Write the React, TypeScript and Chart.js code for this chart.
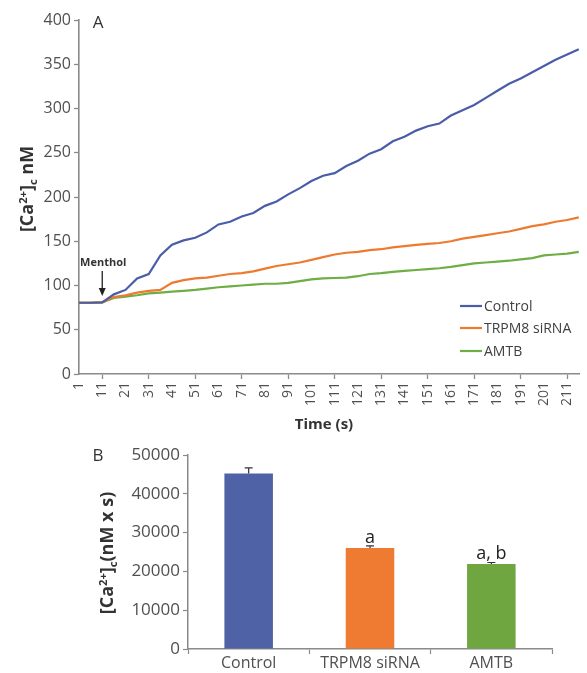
import React, { useEffect, useRef } from 'react';
import { Chart, registerables } from 'chart.js';

Chart.register(...registerables);

// ---------- Panel A data ----------
const times = [1, 6, 11, 16, 21, 26, 31, 36, 41, 46, 51, 56, 61, 66, 71, 76, 81, 86, 91, 96, 101, 106, 111, 116, 121, 126, 131, 136, 141, 146, 151, 156, 161, 166, 171, 176, 181, 186, 191, 196, 201, 206, 211, 216];
const controlValues = [80.5, 80.5, 81, 90, 95, 108, 113, 134, 146, 151, 154, 160, 169, 172, 178, 182, 190, 195, 203, 210, 218, 224, 227, 235, 241, 249, 254, 263, 268, 275, 280, 283, 292, 298, 304, 312, 320, 328, 334, 341, 348, 355, 361, 367];
const trpm8Values = [80.5, 80.5, 81, 87, 89, 92, 94, 95, 103, 106, 108, 109, 111, 113, 114, 116, 119, 122, 124, 126, 129, 132, 135, 137, 138, 140, 141, 143, 144.5, 146, 147, 148, 150, 153, 155, 157, 159, 161, 164, 167, 169, 172, 174, 177];
const amtbValues = [80.5, 80.5, 81, 86, 87.5, 89, 91, 92, 93, 94, 95, 96.5, 98, 99, 100, 101, 102, 102, 103, 105, 107, 108, 108.5, 109, 110.5, 113, 114, 115.5, 116.5, 117.5, 118.5, 119.5, 121, 123, 125, 126, 127, 128, 129.5, 131, 134, 135, 136, 138];
const seriesNames = ['Control', 'TRPM8 siRNA', 'AMTB'];
const xTickValues = [1, 11, 21, 31, 41, 51, 61, 71, 81, 91, 101, 111, 121, 131, 141, 151, 161, 171, 181, 191, 201, 211];
const yMinA = 0;
const yMaxA = 400;
const yStepA = 50;
const xMaxA = 216.3;
const mentholTime = 11;
const mentholLabel = 'Menthol';

// ---------- Panel B data ----------
const barCategories = ['Control', 'TRPM8 siRNA', 'AMTB'];
const barValues = [45200, 26000, 21900];
const barErrors = [1500, 600, 400];
const barAnnotations = ['', 'a', 'a, b'];
const yMaxB = 50000;
const yStepB = 10000;

// ---------- styling ----------
const lineColors = ['#4a5da8', '#ee7a30', '#6fad45'];
const barColors = ['#5062a6', '#ee7b31', '#6fa63f'];
const textColor = '#505050';
const axisColor = '#8a8a8a';
const FONT = '"Open Sans", "DejaVu Sans", sans-serif';

type Seg = { text: string; kind?: 'sup' | 'sub' };

function drawRichRotated(ctx: CanvasRenderingContext2D, segs: Seg[], cx: number, cy: number, size: number, color: string) {
  ctx.save();
  ctx.translate(cx, cy);
  ctx.rotate(-Math.PI / 2);
  ctx.fillStyle = color;
  ctx.textBaseline = 'alphabetic';
  ctx.textAlign = 'left';
  let total = 0;
  const parts = segs.map((s) => {
    const sz = s.kind ? size * 0.62 : size;
    ctx.font = `bold ${sz}px ${FONT}`;
    const w = ctx.measureText(s.text).width;
    total += w;
    return { ...s, sz, w };
  });
  let x = -total / 2;
  for (const p of parts) {
    ctx.font = `bold ${p.sz}px ${FONT}`;
    const dy = p.kind === 'sup' ? -size * 0.36 : p.kind === 'sub' ? size * 0.18 : 0;
    ctx.fillText(p.text, x, size * 0.36 + dy);
    x += p.w;
  }
  ctx.restore();
}

const titleA: Seg[] = [{ text: '[Ca' }, { text: '2+', kind: 'sup' }, { text: ']' }, { text: 'c', kind: 'sub' }, { text: ' nM' }];
const titleB: Seg[] = [{ text: '[Ca' }, { text: '2+', kind: 'sup' }, { text: ']' }, { text: 'c', kind: 'sub' }, { text: '(nM x s)' }];

export default function App() {
  const refA = useRef<HTMLCanvasElement>(null);
  const refB = useRef<HTMLCanvasElement>(null);

  useEffect(() => {
    const seriesValues = [controlValues, trpm8Values, amtbValues];
    const decorA = {
      id: 'decorA',
      afterDraw(chart: any) {
        const ctx: CanvasRenderingContext2D = chart.ctx;
        const xs = chart.scales.x;
        ctx.save();
        ctx.fillStyle = '#333';
        ctx.font = `17px ${FONT}`;
        ctx.textAlign = 'center';
        ctx.textBaseline = 'middle';
        ctx.fillText('A', 98, 23);
        drawRichRotated(ctx, titleA, 27, 189, 18, '#333');
        ctx.fillStyle = '#333';
        ctx.font = `bold 15px ${FONT}`;
        ctx.textAlign = 'center';
        ctx.textBaseline = 'middle';
        ctx.fillText('Time (s)', 324, 425);
        const ax = xs.getPixelForValue(mentholTime);
        ctx.font = `bold 11px ${FONT}`;
        ctx.fillStyle = '#333';
        ctx.fillText(mentholLabel, ax + 1, 263);
        ctx.strokeStyle = '#222';
        ctx.lineWidth = 1.3;
        ctx.beginPath();
        ctx.moveTo(ax, 271);
        ctx.lineTo(ax, 289);
        ctx.stroke();
        ctx.fillStyle = '#222';
        ctx.beginPath();
        ctx.moveTo(ax - 3.5, 288);
        ctx.lineTo(ax + 3.5, 288);
        ctx.lineTo(ax, 296);
        ctx.closePath();
        ctx.fill();
        const rows = [306, 328, 351];
        chart.data.datasets.forEach((ds: any, i: number) => {
          ctx.strokeStyle = ds.borderColor;
          ctx.lineWidth = 2.2;
          ctx.beginPath();
          ctx.moveTo(460, rows[i]);
          ctx.lineTo(482, rows[i]);
          ctx.stroke();
          ctx.fillStyle = '#404040';
          ctx.font = `14px ${FONT}`;
          ctx.textAlign = 'left';
          ctx.textBaseline = 'middle';
          ctx.fillText(ds.label, 484, rows[i] + 1);
        });
        ctx.restore();
      },
    };

    const chartA = new Chart(refA.current!, {
      type: 'line',
      data: {
        datasets: seriesNames.map((name, i) => ({
          label: name,
          data: times.map((t, j) => ({ x: t, y: seriesValues[i][j] })),
          borderColor: lineColors[i],
          backgroundColor: lineColors[i],
          borderWidth: 2.2,
          pointRadius: 0,
          tension: 0,
          fill: false,
        })),
      },
      options: {
        animation: false,
        responsive: false,
        layout: { padding: { top: 20, right: 2, left: 0, bottom: 0 } },
        plugins: { legend: { display: false }, tooltip: { enabled: false } },
        scales: {
          x: {
            type: 'linear',
            min: 1,
            max: xMaxA,
            afterBuildTicks: (s: any) => {
              s.ticks = xTickValues.map((v) => ({ value: v }));
            },
            afterFit: (s: any) => {
              s.height = 66;
            },
            ticks: {
              autoSkip: false,
              minRotation: 90,
              maxRotation: 90,
              padding: 3,
              color: textColor,
              font: { family: FONT, size: 14 },
              callback: (v: any) => String(v),
            },
            grid: {
              drawOnChartArea: false,
              drawTicks: true,
              tickLength: 5,
              tickWidth: 1.3,
              tickColor: (c: any) => (c.tick && (c.tick.value - 11) % 20 === 0 ? axisColor : 'rgba(0,0,0,0)'),
            },
            border: { color: axisColor, width: 1.6 },
          },
          y: {
            min: yMinA,
            max: yMaxA,
            afterFit: (s: any) => {
              s.width = 79;
            },
            ticks: {
              stepSize: yStepA,
              padding: 3,
              color: textColor,
              font: { family: FONT, size: 16 },
              callback: (v: any) => String(v),
            },
            grid: { drawOnChartArea: false, tickLength: 5, tickColor: axisColor, tickWidth: 1.3 },
            border: { color: axisColor, width: 1.6 },
          },
        },
      },
      plugins: [decorA],
    } as any);

    const decorB = {
      id: 'decorB',
      afterDatasetsDraw(chart: any) {
        const ctx: CanvasRenderingContext2D = chart.ctx;
        const ys = chart.scales.y;
        const meta = chart.getDatasetMeta(0);
        ctx.save();
        meta.data.forEach((el: any, i: number) => {
          const top = ys.getPixelForValue(barValues[i] + barErrors[i]);
          ctx.strokeStyle = '#333';
          ctx.lineWidth = 1.2;
          ctx.beginPath();
          ctx.moveTo(el.x, el.y);
          ctx.lineTo(el.x, top);
          ctx.moveTo(el.x - 4, top);
          ctx.lineTo(el.x + 4, top);
          ctx.stroke();
          if (barAnnotations[i]) {
            ctx.fillStyle = '#222';
            ctx.font = `18px ${FONT}`;
            ctx.textAlign = 'center';
            ctx.textBaseline = 'alphabetic';
            ctx.fillText(barAnnotations[i], el.x, top - 3);
          }
        });
        ctx.restore();
      },
      afterDraw(chart: any) {
        const ctx: CanvasRenderingContext2D = chart.ctx;
        ctx.save();
        ctx.fillStyle = '#333';
        ctx.font = `17px ${FONT}`;
        ctx.textAlign = 'center';
        ctx.textBaseline = 'middle';
        ctx.fillText('B', 98, 16);
        drawRichRotated(ctx, titleB, 107, 113, 18, '#333');
        ctx.restore();
      },
    };

    const chartB = new Chart(refB.current!, {
      type: 'bar',
      data: {
        labels: barCategories,
        datasets: [
          {
            label: '[Ca2+]c (nM x s)',
            data: barValues,
            backgroundColor: barColors,
            borderWidth: 0,
            barPercentage: 0.4,
            categoryPercentage: 1.0,
          },
        ],
      },
      options: {
        animation: false,
        responsive: false,
        layout: { padding: { top: 15, right: 35, left: 0, bottom: 0 } },
        plugins: { legend: { display: false }, tooltip: { enabled: false } },
        scales: {
          x: {
            afterFit: (s: any) => {
              s.height = 24;
            },
            ticks: { color: textColor, font: { family: FONT, size: 16 }, padding: 0 },
            grid: { drawOnChartArea: false, offset: true, tickLength: 5, tickColor: axisColor, tickWidth: 1.2 },
            border: { color: axisColor, width: 1.5 },
          },
          y: {
            min: 0,
            max: yMaxB,
            afterFit: (s: any) => {
              s.width = 188;
            },
            ticks: {
              stepSize: yStepB,
              padding: 3,
              color: textColor,
              font: { family: FONT, size: 17 },
              callback: (v: any) => String(v),
            },
            grid: { drawOnChartArea: false, tickLength: 5, tickColor: axisColor, tickWidth: 1.2 },
            border: { color: axisColor, width: 1.5 },
          },
        },
      },
      plugins: [decorB],
    } as any);

    return () => {
      chartA.destroy();
      chartB.destroy();
    };
  }, []);

  return (
    <div style={{ position: 'absolute', left: 0, top: 0, width: 587, height: 673, background: '#fff' }}>
      <canvas ref={refA} width={587} height={440} style={{ position: 'absolute', left: 0, top: 0, display: 'block' }} />
      <canvas ref={refB} width={587} height={233} style={{ position: 'absolute', left: 0, top: 440, display: 'block' }} />
    </div>
  );
}
